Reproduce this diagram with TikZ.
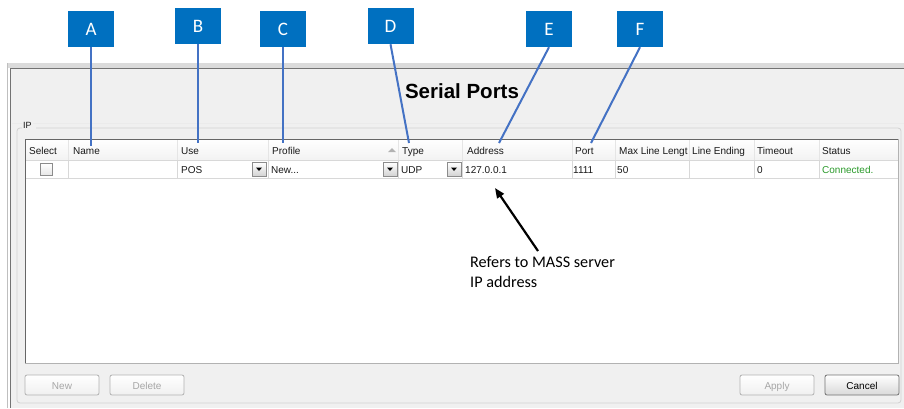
\documentclass[tikz,border=0pt]{standalone}
\usepackage{fontspec}
\setmainfont{Liberation Sans}
\newfontfamily\calib{Carlito}
\usetikzlibrary{arrows.meta}
\definecolor{boxblue}{HTML}{0070C0}
\definecolor{leadblue}{HTML}{4472C4}
\definecolor{winbg}{HTML}{F0F0F0}
\definecolor{okgreen}{HTML}{2A9A2A}
\definecolor{gridgray}{HTML}{D8D8D8}
\definecolor{framegray}{HTML}{8C8C8C}
\definecolor{disgray}{HTML}{A6A6A6}
\begin{document}
\begin{tikzpicture}[x=1pt,y=-1pt,
  lbl/.style={fill=boxblue, text=white, minimum width=46, minimum height=36, inner sep=0,
              font=\calib\fontsize{19}{19}\selectfont},
  lead/.style={draw=leadblue, line width=2},
  tabtext/.style={anchor=base west, inner sep=0, font=\fontsize{10}{11}\selectfont, text=black!90},
  gridline/.style={draw=gridgray, line width=0.8},
  combo/.style={draw=framegray, line width=0.7, top color=white, bottom color=black!18},
  btnbox/.style={draw=black!30, line width=0.8, rounded corners=2, top color=white, bottom color=black!6},
  btntext/.style={anchor=base, inner sep=0, font=\fontsize{10}{11}\selectfont},
  notetext/.style={anchor=north west, inner sep=0, align=left, font=\calib\fontsize{16.2}{20}\selectfont}
]
\useasboundingbox (0,0) rectangle (904,408);
\fill[white] (0,0) rectangle (904,408);

% window
\fill[black!14] (7,63) rectangle (904,68);
\fill[winbg] (10,68) rectangle (904,408);
\draw[black!55, line width=1] (10,408) -- (10,68) -- (904,68);
\draw[black!25, line width=0.8] (7.5,408) -- (7.5,63);
\draw[black!8, line width=0.8] (12,123) -- (904,123);

% title
\node[font=\bfseries\fontsize{20.5}{22}\selectfont, inner sep=0] (title) at (462,91) {Serial Ports};

% group box
\draw[black!18, line width=0.8, rounded corners=3] (22,128) -- (17,128) -- (17,403) -- (901,403) -- (901,128) -- (36,128);
\node[tabtext, font=\fontsize{9}{10}\selectfont, fill=winbg, inner xsep=1] (ip) at (22,128) {IP};

% table body
\fill[white] (25,139) rectangle (898,363);
\fill[top color=white, bottom color=black!5] (25,139) rectangle (898,160);
\draw[gridline] (25,160.5) -- (898,160.5);
\draw[gridline] (25,178) -- (898,178);
\foreach \cx in {68,177,268,398,462,572,615,689,754,819}{
  \draw[black!10, line width=0.8] (\cx,140) -- (\cx,160);
  \draw[gridline] (\cx,161) -- (\cx,178);
}
\draw[black!30, line width=0.8] (25,363) -- (898,363) -- (898,139);
\draw[black!60, line width=1] (25,363) -- (25,139) -- (898,139);

% header texts
\node[tabtext] (hSel)  at (29,154)  {Select};
\node[tabtext] (hName) at (73,154)  {Name};
\node[tabtext] (hUse)  at (181,154) {Use};
\node[tabtext] (hProf) at (272,154) {Profile};
\node[tabtext] (hType) at (402,154) {Type};
\node[tabtext] (hAddr) at (467,154) {Address};
\node[tabtext] (hPort) at (575,154) {Port};
\node[tabtext] (hMax)  at (619,154) {Max Line Lengt};
\node[tabtext] (hLine) at (692,154) {Line Ending};
\node[tabtext] (hTime) at (757,154) {Timeout};
\node[tabtext] (hStat) at (822,154) {Status};
\fill[black!30] (388,152) -- (396,152) -- (392,148) -- cycle;

% data row
\draw[draw=black!45, line width=0.7, top color=white, bottom color=black!10] (40.5,163.5) rectangle (52.5,175.5);
\node[tabtext] (dUse)  at (181,173.5) {POS};
\node[tabtext] (dProf) at (271,173.5) {New...};
\node[tabtext] (dType) at (401,173.5) {UDP};
\node[tabtext] (dAddr) at (465,173.5) {127.0.0.1};
\node[tabtext] (dPort) at (573,173.5) {1111};
\node[tabtext] (dMax)  at (617,173.5) {50};
\node[tabtext] (dTime) at (757,173.5) {0};
\node[tabtext, text=okgreen] (dStat) at (822,173.5) {Connected.};
\foreach \bx in {252,383,447}{
  \draw[combo] (\bx,162.5) rectangle (\bx+14,176.5);
  \fill[black] (\bx+4,167.5) -- (\bx+10,167.5) -- (\bx+7,171) -- cycle;
}

% buttons
\draw[btnbox] (25,375) rectangle (99,395);
\node[btntext, text=disgray] (bNew) at (62,389) {New};
\draw[btnbox] (110,375) rectangle (184,395);
\node[btntext, text=disgray] (bDel) at (147,389) {Delete};
\draw[btnbox] (740,375) rectangle (814,395);
\node[btntext, text=disgray] (bApp) at (777,389) {Apply};
\draw[draw=black!55, line width=0.8, rounded corners=2, top color=white, bottom color=black!15] (825,375) rectangle (899,395);
\node[btntext, text=black] (bCan) at (862,389) {Cancel};

% label boxes
\node[lbl] (A) at (91,29) {A};
\node[lbl] (B) at (198,26) {B};
\node[lbl] (C) at (283,29) {C};
\node[lbl] (D) at (390.5,26) {D};
\node[lbl] (E) at (549,29) {E};
\node[lbl] (F) at (640,29) {F};

\coordinate (aEnd) at (91,146);
\coordinate (bEnd) at (198,143);
\coordinate (cEnd) at (283,143);
\coordinate (dEnd) at (409,143);
\coordinate (eEnd) at (499,143);
\coordinate (fEnd) at (591,143);
\draw[lead] (A.south) -- (aEnd);
\draw[lead] (B.south) -- (bEnd);
\draw[lead] (C.south) -- (cEnd);
\draw[lead] (D.south) -- (dEnd);
\draw[lead] (E.south) -- (eEnd);
\draw[lead] (F.south) -- (fEnd);

% annotation
\node[notetext] (note) at (470,256) {Refers to MASS server\\IP address};
\coordinate (arrTail) at (538,251);
\coordinate (arrTip) at (495,188);
\draw[line width=2.2, -{Triangle[length=10pt,width=8pt]}] (arrTail) -- (arrTip);
\end{tikzpicture}
\end{document}
